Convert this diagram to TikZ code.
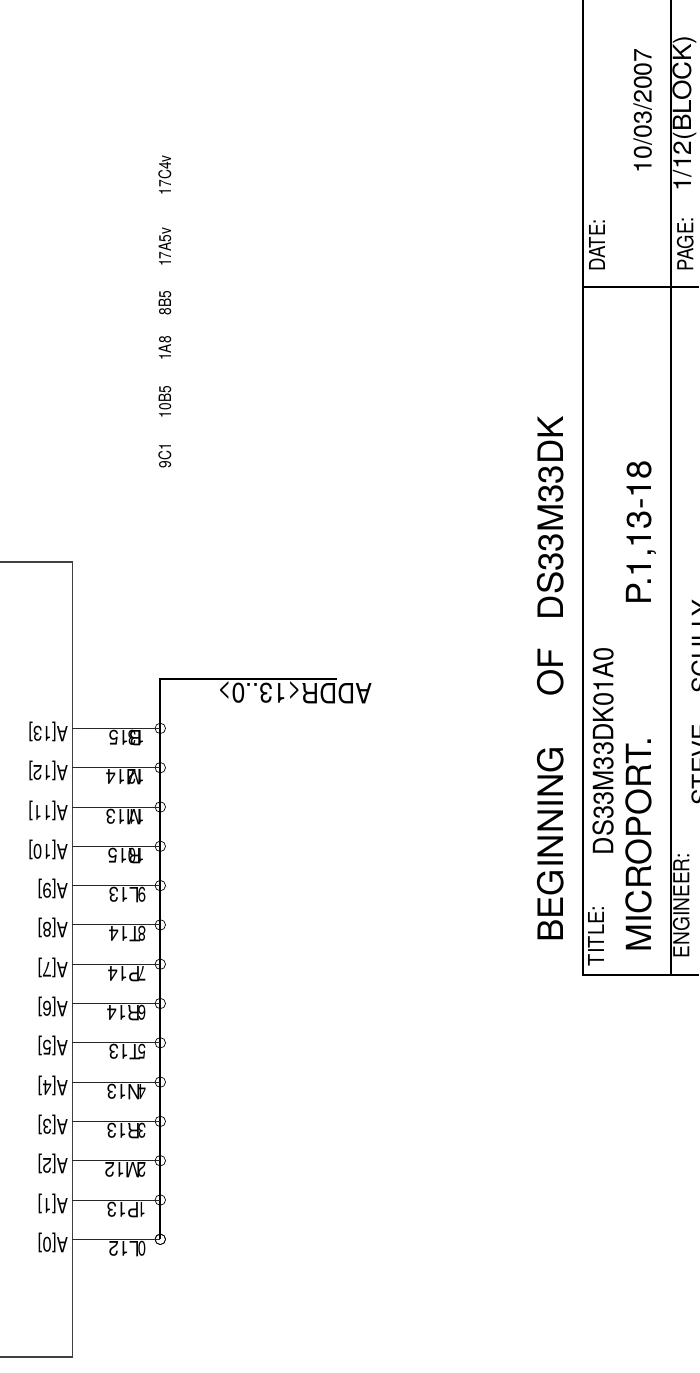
\documentclass[tikz,border=0pt]{standalone}
\usepackage{fontspec}
\setmainfont{TeX Gyre Heros}
\newcommand{\txt}[3]{{\fontsize{#1}{#1}\selectfont\scalebox{#2}[1]{#3}}}
\tikzset{
  x=1pt,y=-1pt,
  lbl/.style={inner sep=0pt,outer sep=0pt,anchor=base west,text=black},
  upright/.style={lbl,rotate=90},
  flip/.style={lbl,rotate=180},
  pinwire/.style={line width=0.9pt,draw=black!85},
  buswire/.style={line width=1.9pt,draw=black},
  frameline/.style={line width=1.6pt,draw=black},
  boxline/.style={line width=1.1pt,draw=black!75},
  junction/.style={circle,draw=black,line width=0.7pt,minimum size=10.5pt,inner sep=0pt,fill=none},
}
\begin{document}
\begin{tikzpicture}
\useasboundingbox (0,0) rectangle (699,1373);
\clip (0,0) rectangle (699,1373);
\fill[white] (0,0) rectangle (699,1373);
% component box
\coordinate (boxTL) at (0,562);
\coordinate (boxTR) at (72.3,562);
\coordinate (boxBR) at (72.3,1357);
\coordinate (boxBL) at (0,1357);
\draw[boxline] (boxTL) -- (boxTR) -- (boxBR) -- (boxBL);
% bus
\coordinate (busEnd) at (337,679.3);
\coordinate (busCorner) at (160.3,679.3);
\node[junction] (j0) at (160.3,1239.3) {};
\draw[buswire] (busEnd) -- (busCorner) -- (160.3,1239.3);
\node[flip] (busLabel) at (372,683) {\txt{28}{0.89}{ADDR<13..0>}};
% pins
\foreach \k/\nm/\dg/\ball/\bx/\dx in {
 0/A[0]/0/L12/139.5/146, 1/A[1]/1/P13/139.5/146, 2/A[2]/2/M12/140.5/146, 3/A[3]/3/R13/140.5/146,
 4/A[4]/4/N13/140.5/146, 5/A[5]/5/T13/140.5/146, 6/A[6]/6/R14/140.5/146, 7/A[7]/7/P14/140.5/146,
 8/A[8]/8/T14/140.5/146, 9/A[9]/9/L13/139.5/146, 10/A[10]/10/R15/141.5/144.5, 11/A[11]/11/M13/141.5/144.5,
 12/A[12]/12/M14/141.5/144.5, 13/A[13]/13/B15/141.5/144.5}{
  \pgfmathsetmacro{\yy}{1239.3-39.3*\k}
  \node[junction] (j\k) at (160.3,\yy) {};
  \coordinate (p\k) at (72.3,\yy);
  \draw[pinwire] (p\k) -- (j\k.center);
  \node[flip] (a\k) at (68,\yy-2) {\txt{21}{0.81}{\nm}};
  \node[flip] (b\k) at (\bx,\yy+2) {\txt{21}{0.88}{\ball}};
  \node[flip] (d\k) at (\dx,\yy+2) {\txt{21}{0.72}{\dg}};
}
% small references
\node[upright] (r1) at (171,195) {\txt{17}{0.81}{17C4v}};
\node[upright] (r2) at (171,266.7) {\txt{17}{0.81}{17A5v}};
\node[upright] (r3) at (171,315) {\txt{17}{0.81}{8B5}};
\node[upright] (r4) at (171,360.7) {\txt{17}{0.81}{1A8}};
\node[upright] (r5) at (171,418.3) {\txt{17}{0.81}{10B5}};
\node[upright] (r6) at (171,468.3) {\txt{17}{0.81}{9C1}};
% main title
\node[upright] (title) at (563,942.7) {\txt{35}{1}{BEGINNING \hspace{40pt}OF \hspace{18pt}DS33M33DK}};
% title block
\coordinate (tA) at (582.7,0);
\coordinate (tB) at (582.7,975);
\coordinate (tC) at (671,0);
\coordinate (tD) at (671,975);
\coordinate (tE) at (699,975);
\coordinate (tF) at (582.7,287);
\coordinate (tG) at (699,287);
\draw[frameline] (tA) -- (tB) -- (tE);
\draw[frameline] (tC) -- (tD);
\draw[frameline] (tF) -- (tG);
\node[upright] (t1) at (604,966) {\txt{22}{0.91}{TITLE:}};
\node[upright] (t2) at (613.3,855) {\txt{28}{0.91}{DS33M33DK01A0}};
\node[upright] (t3) at (651.7,952.7) {\txt{34.5}{1}{MICROPORT.}};
\node[upright] (t4) at (651.7,605) {\txt{34.5}{1}{P.1,13-18}};
\node[upright] (t5) at (689.3,958.3) {\txt{22}{0.87}{ENGINEER:}};
\node[upright] (t6) at (710,805) {\txt{25}{1}{STEVE \hspace{23pt}SCULLY}};
\node[upright] (t7) at (605,271.7) {\txt{22}{0.85}{DATE:}};
\node[upright] (t8) at (651.7,173.3) {\txt{25}{1}{10/03/2007}};
\node[upright] (t9) at (693.3,271.7) {\txt{22}{0.84}{PAGE:}};
\node[upright] (t10) at (691.7,191.7) {\txt{25}{1.05}{1/12(BLOCK)}};
\end{tikzpicture}
\end{document}
